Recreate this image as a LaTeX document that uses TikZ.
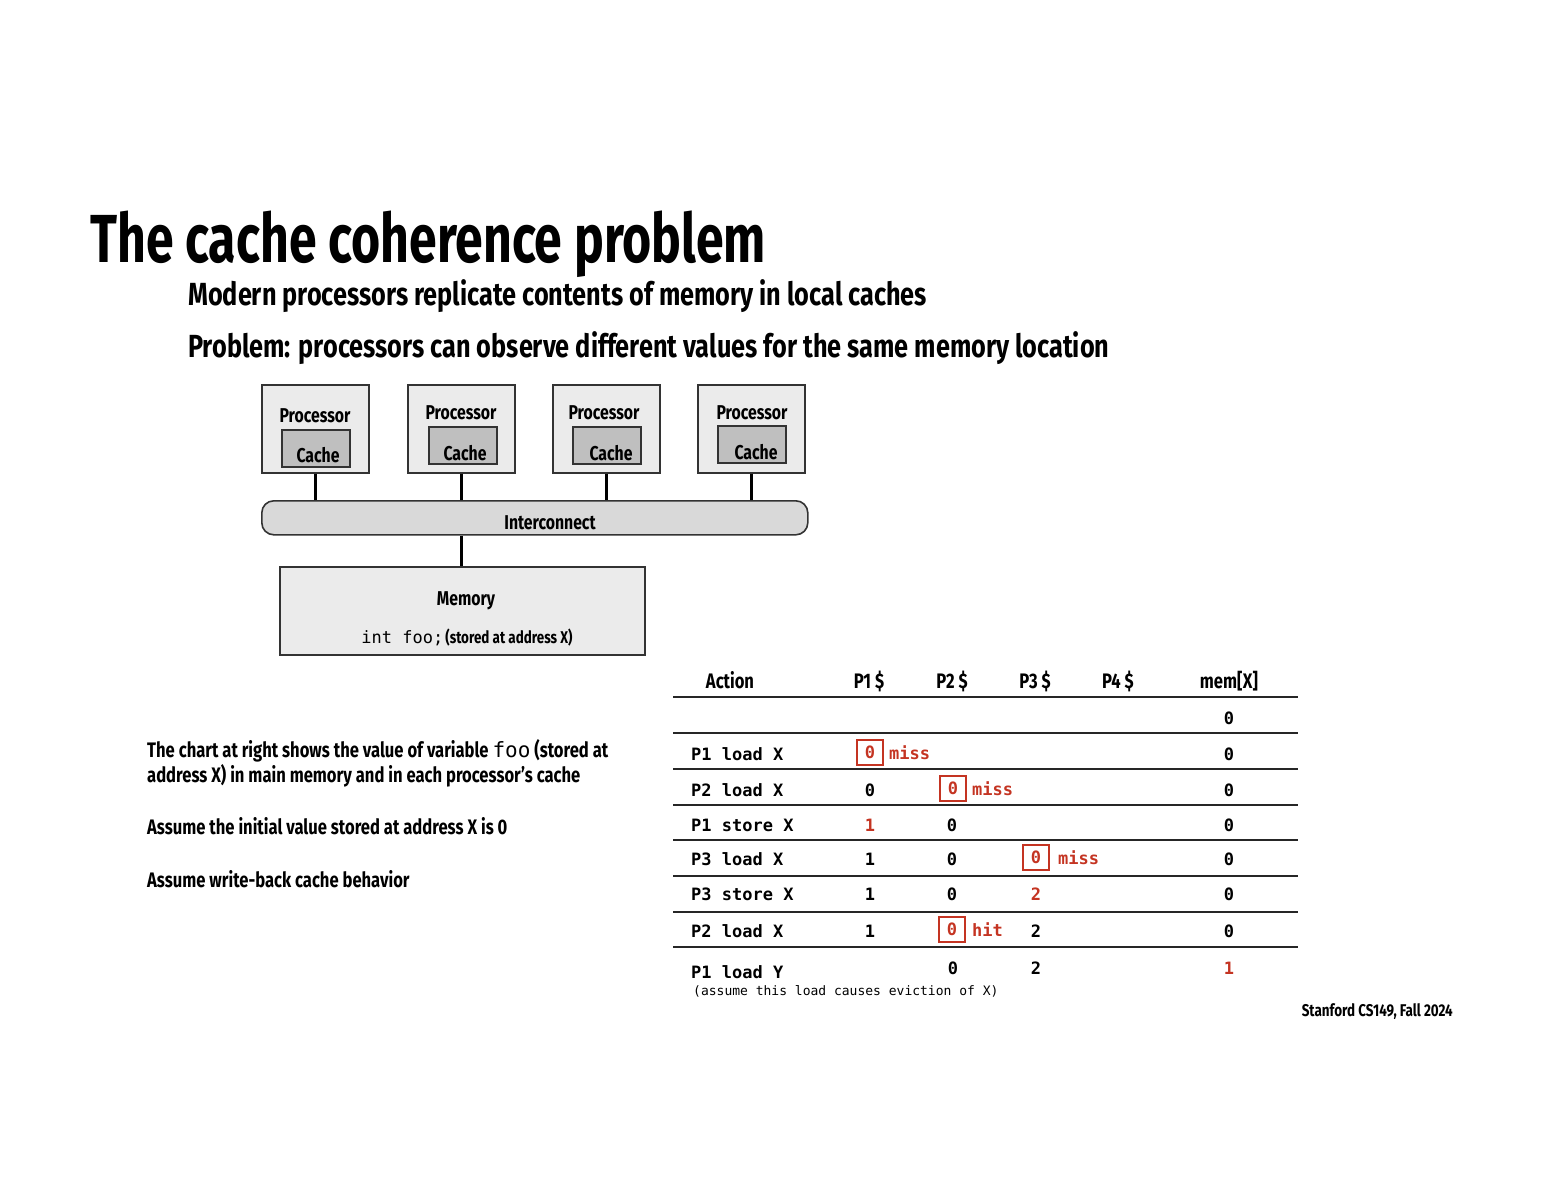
\documentclass[tikz,border=0pt]{standalone}
\usepackage{fontspec}
\setmainfont{Fira Sans}[FakeStretch=0.79]
\newfontfamily\titlefont{Fira Sans}[FakeStretch=0.735]
\setmonofont{DejaVu Sans Mono}
\definecolor{boxfill}{HTML}{EBEBEB}
\definecolor{cachefill}{HTML}{BFBFBF}
\definecolor{icfill}{HTML}{D9D9D9}
\definecolor{edge}{HTML}{333333}
\definecolor{hl}{RGB}{196,52,34}
\begin{document}
\begin{tikzpicture}[x=1pt,y=-1pt,
  procbox/.style={draw=edge, line width=1.6pt, fill=boxfill, anchor=north west, inner sep=0pt, minimum width=107pt, minimum height=88pt},
  cachebox/.style={draw=edge, line width=1.6pt, fill=cachefill, anchor=north west, inner sep=0pt, minimum width=68pt, minimum height=37pt},
  lbl/.style={font=\bfseries\fontsize{20}{24}\selectfont, inner sep=0pt, anchor=base},
  link/.style={draw=black, line width=3pt},
  tabrule/.style={draw=black!85, line width=1.8pt},
  cell/.style={font=\ttfamily\bfseries\fontsize{17}{20}\selectfont, inner sep=0pt, anchor=base},
  act/.style={cell, anchor=base west},
  red/.style={text=hl},
  hitbox/.style={draw=hl, line width=1.8pt, minimum width=26pt, minimum height=25pt, inner sep=0pt, text=hl, font=\ttfamily\bfseries\fontsize{17}{20}\selectfont},
  note/.style={font=\ttfamily\bfseries\fontsize{17}{20}\selectfont, text=hl, inner sep=0pt, anchor=west},
  head/.style={font=\bfseries\fontsize{21}{24}\selectfont, inner sep=0pt, anchor=base},
  side/.style={font=\bfseries\fontsize{21}{24}\selectfont, inner sep=0pt, anchor=base west}
]
\useasboundingbox (0,0) rectangle (1553,1200);

% Title
\node[font=\titlefont\bfseries\fontsize{68}{80}\selectfont, inner sep=0pt, anchor=base west] (title) at (90,262) {The cache coherence problem};
\node[font=\bfseries\fontsize{32}{38}\selectfont, inner sep=0pt, anchor=base west] (sub1) at (188,305) {Modern processors replicate contents of memory in local caches};
\node[font=\bfseries\fontsize{32}{38}\selectfont, inner sep=0pt, anchor=base west] (sub2) at (188,357) {Problem: processors can observe different values for the same memory location};

% Processors
\node[procbox] (p1) at (261,384) {};
\node[procbox] (p2) at (407,384) {};
\node[procbox] (p3) at (552,384) {};
\node[procbox] (p4) at (697,384) {};
\node[cachebox] (c1) at (281,429) {};
\node[cachebox] (c2) at (428,426) {};
\node[cachebox] (c3) at (572,426) {};
\node[cachebox] (c4) at (717,425) {};
\node[lbl] (pl1) at (315,422) {Processor};
\node[lbl] (pl2) at (461,419) {Processor};
\node[lbl] (pl3) at (604,419) {Processor};
\node[lbl] (pl4) at (752,419) {Processor};
\node[lbl] (cl1) at (318,462) {Cache};
\node[lbl] (cl2) at (465,460) {Cache};
\node[lbl] (cl3) at (611,460) {Cache};
\node[lbl] (cl4) at (756,459) {Cache};

% Interconnect
\node[draw=edge, line width=1.6pt, fill=icfill, rounded corners=12pt, anchor=north west, inner sep=0pt, minimum width=546pt, minimum height=34pt] (ic) at (261,500) {};
\node[lbl] (icl) at (550,529) {Interconnect};

% Memory
\node[draw=edge, line width=1.6pt, fill=boxfill, anchor=north west, inner sep=0pt, minimum width=365pt, minimum height=88pt] (mem) at (279,566) {};
\node[lbl] (meml) at (466,605) {Memory};
\node[inner sep=0pt, anchor=base] (memv) at (467,643) {{\ttfamily\fontsize{17}{20}\selectfont int foo;} {\bfseries\fontsize{17}{20}\selectfont (stored at address X)}};

% links
\draw[link] (p1.south) -- (p1.south |- ic.north);
\draw[link] (p2.south) -- (p2.south |- ic.north);
\draw[link] (p3.south) -- (p3.south |- ic.north);
\draw[link] (p4.south) -- (p4.south |- ic.north);
\draw[link] (ic.south -| p2.south) -- (mem.north -| p2.south);

% Table header
\node[head] (hA) at (730,688) {Action};
\node[head] (h1) at (869,688) {P1 \$};
\node[head] (h2) at (952,688) {P2 \$};
\node[head] (h3) at (1035,688) {P3 \$};
\node[head] (h4) at (1118,688) {P4 \$};
\node[head] (hm) at (1229,688) {mem[X]};

% rules
\foreach \yy in {697,733,769,805,840,876,912,947}
  \draw[tabrule] (673,\yy) -- (1298,\yy);

% row 0
\node[cell] (r0m) at (1229,724) {0};
% row 1
\node[act] (r1a) at (691,760) {P1 load X};
\node[hitbox] (r1b) at (870,752.5) {0};
\node[note] (r1n) at ([xshift=5pt]r1b.east) {miss};
\node[cell] (r1m) at (1229,760) {0};
% row 2
\node[act] (r2a) at (691,796) {P2 load X};
\node[cell] (r2p1) at (870,796) {0};
\node[hitbox] (r2b) at (953,788.5) {0};
\node[note] (r2n) at ([xshift=5pt]r2b.east) {miss};
\node[cell] (r2m) at (1229,796) {0};
% row 3
\node[act] (r3a) at (691,831) {P1 store X};
\node[cell, red] (r3p1) at (870,831) {1};
\node[cell] (r3p2) at (952,831) {0};
\node[cell] (r3m) at (1229,831) {0};
% row 4
\node[act] (r4a) at (691,865) {P3 load X};
\node[cell] (r4p1) at (870,865) {1};
\node[cell] (r4p2) at (952,865) {0};
\node[hitbox] (r4b) at (1036,857.5) {0};
\node[note] (r4n) at ([xshift=8pt]r4b.east) {miss};
\node[cell] (r4m) at (1229,865) {0};
% row 5
\node[act] (r5a) at (691,900) {P3 store X};
\node[cell] (r5p1) at (870,900) {1};
\node[cell] (r5p2) at (952,900) {0};
\node[cell, red] (r5p3) at (1036,900) {2};
\node[cell] (r5m) at (1229,900) {0};
% row 6
\node[act] (r6a) at (691,937) {P2 load X};
\node[cell] (r6p1) at (870,937) {1};
\node[hitbox] (r6b) at (952,929.5) {0};
\node[note] (r6n) at ([xshift=6pt]r6b.east) {hit};
\node[cell] (r6p3) at (1036,937) {2};
\node[cell] (r6m) at (1229,937) {0};
% row 7
\node[act] (r7a) at (691,978) {P1 load Y};
\node[cell] (r7p2) at (953,974) {0};
\node[cell] (r7p3) at (1036,974) {2};
\node[cell, red] (r7m) at (1229,974) {1};
\node[font=\ttfamily\fontsize{13}{15}\selectfont, inner sep=0pt, anchor=base west] (r7n) at (693,995) {(assume this load causes eviction of X)};

% side text
\node[side] (s1) at (147,757) {The chart at right shows the value of variable {\ttfamily\mdseries foo} (stored at};
\node[side] (s2) at (147,782) {address X) in main memory and in each processor’s cache};
\node[side] (s3) at (147,834) {Assume the initial value stored at address X is 0};
\node[side] (s4) at (147,887) {Assume write-back cache behavior};

% footer
\node[font=\bfseries\fontsize{17}{19}\selectfont, inner sep=0pt, anchor=base east] (foot) at (1453,1016) {Stanford CS149, Fall 2024};
\end{tikzpicture}
\end{document}
